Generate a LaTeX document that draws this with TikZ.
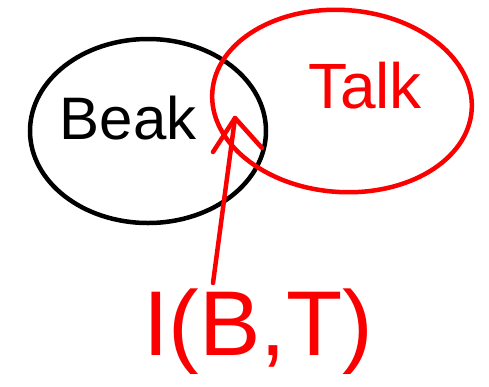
\documentclass[tikz,border=0pt]{standalone}
\usepackage{fontspec}
\setmainfont{Liberation Sans}
\usetikzlibrary{shapes.geometric}
\definecolor{pen}{RGB}{250,0,0}
\begin{document}
\begin{tikzpicture}[x=1pt,y=-1pt,
  blackpen/.style={draw=black,line width=4.5pt},
  redpen/.style={draw=pen,line width=4.5pt,line cap=round,line join=round},
  bigtext/.style={inner sep=0pt}]
\useasboundingbox (0,0) rectangle (489,386);
\node[ellipse,blackpen,minimum width=236pt,minimum height=184pt] (beak) at (148,131) {};
\node[ellipse,redpen,minimum width=260pt,minimum height=182pt,rotate=-4] (talk) at (342,101) {};
\node[bigtext] (beaklbl) at (128,118) {\fontsize{60}{70}\selectfont Beak};
\node[bigtext,text=pen] (talklbl) at (365,86) {\fontsize{64}{72}\selectfont Talk};
\node[bigtext,text=pen] (itxt) at (258,332) {\fontsize{92}{100}\selectfont I(B,T)};
\coordinate (start) at (213,283);
\coordinate (tip) at (235,118);
\coordinate (lbarb) at (213,152);
\coordinate (rbarb) at (262,148);
\draw[redpen] (start) -- (tip);
\draw[redpen] (lbarb) -- (tip) -- (rbarb);
\end{tikzpicture}
\end{document}
